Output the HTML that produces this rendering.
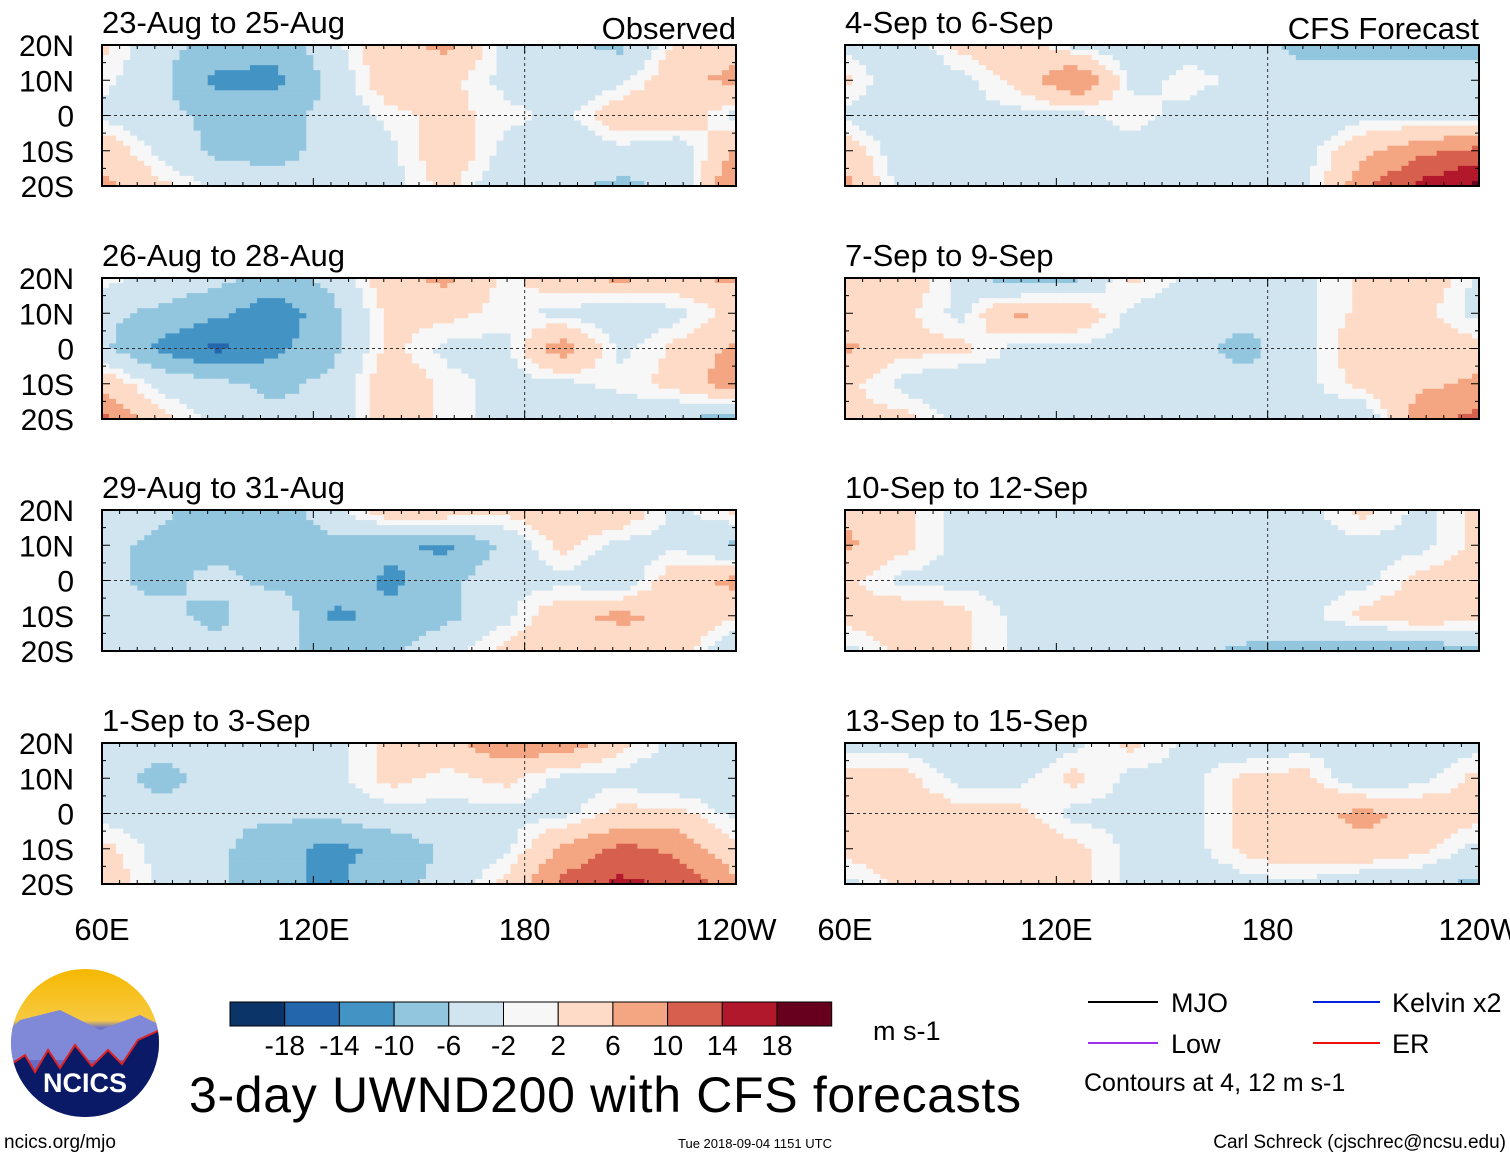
<!DOCTYPE html>
<html><head><meta charset="utf-8"><style>
body{margin:0;background:#fff;}
svg text{font-family:"Liberation Sans",sans-serif;}
</style></head><body>
<svg id="root" width="1510" height="1158" viewBox="0 0 1510 1158" xmlns="http://www.w3.org/2000/svg">
<defs>
<linearGradient id="sky" x1="0" y1="0" x2="0" y2="1"><stop offset="0" stop-color="#f5b800"/><stop offset="0.35" stop-color="#f7c940"/><stop offset="0.4" stop-color="#6a70c8"/><stop offset="1" stop-color="#5a62c0"/></linearGradient>
<clipPath id="logoclip"><circle cx="85" cy="1043" r="74"/></clipPath>
</defs>
<g id="panels"></g>
<g id="colorbar"></g>
<g clip-path="url(#logoclip)">
<rect x="10" y="968" width="150" height="150" fill="url(#sky)"/>
<path d="M20,1020 L60,1010 L100,1030 L140,1015 L160,1025 L160,1060 L10,1060 L10,1030Z" fill="#8088d8"/>
<path d="M10,1065 L25,1055 L35,1072 L48,1050 L60,1068 L75,1045 L92,1066 L108,1050 L122,1064 L138,1040 L160,1030 L160,1120 L10,1120Z" fill="#0b1a66"/>
<path d="M10,1065 L25,1055 L35,1072 L48,1050 L60,1068 L75,1045 L92,1066 L108,1050 L122,1064 L138,1040 L160,1030" fill="none" stroke="#d22" stroke-width="2"/>
<text x="85" y="1092" font-size="27" font-weight="bold" fill="#fff" text-anchor="middle">NCICS</text>
</g>
<text x="4" y="1148" font-size="19">ncics.org/mjo</text>
<text x="755" y="1148" font-size="13" text-anchor="middle">Tue 2018-09-04 1151 UTC</text>
<text x="1506" y="1148" font-size="19" text-anchor="end">Carl Schreck (cjschrec@ncsu.edu)</text>
<text x="605" y="1112" font-size="50" text-anchor="middle" textLength="832">3-day UWND200 with CFS forecasts</text>
<text x="873" y="1040" font-size="27">m s-1</text>
<g>
<line x1="1088" y1="1002" x2="1158" y2="1002" stroke="#000" stroke-width="2"/><text x="1171" y="1012" font-size="27">MJO</text>
<line x1="1313" y1="1002" x2="1380" y2="1002" stroke="#0020e0" stroke-width="2"/><text x="1392" y="1012" font-size="27">Kelvin x2</text>
<line x1="1088" y1="1043" x2="1158" y2="1043" stroke="#a030f0" stroke-width="2"/><text x="1171" y="1053" font-size="27">Low</text>
<line x1="1313" y1="1043" x2="1380" y2="1043" stroke="#f01010" stroke-width="2"/><text x="1392" y="1053" font-size="27">ER</text>
<text x="1084" y="1091" font-size="25">Contours at 4, 12 m s-1</text>
</g>
</svg>
<script>
const colors=["#0b3468","#2466ac","#4394c4","#92c5de","#d1e5f0","#f7f7f7","#fddbc7","#f4a582","#d6604d","#b2182b","#67001f"];
const cbLabels=["-18","-14","-10","-6","-2","2","6","10","14","18"];
const titles=["23-Aug to 25-Aug","26-Aug to 28-Aug","29-Aug to 31-Aug","1-Sep to 3-Sep","4-Sep to 6-Sep","7-Sep to 9-Sep","10-Sep to 12-Sep","13-Sep to 15-Sep"];
const latLabels=["20N","10N","0","10S","20S"];
const lonLabels=["60E","120E","180","120W"];
const u1=[[2,-4,-6,-8,-2,4,6,-2,-4,-6,2,4],[0,-4,-10,-10,-4,4,2,-2,-4,-2,4,6],[-2,-4,-6,-6,-4,0,2,0,-2,4,4,-2],[4,-2,-6,-6,-4,-2,4,-2,-4,-2,-4,6],[6,2,-2,-4,-4,-2,2,-4,-4,-6,-4,10]];
const u2=[[0,-2,-4,-6,-4,4,6,0,4,6,4,6],[-4,-6,-8,-12,-6,2,2,0,-2,-4,-2,2],[-4,-10,-14,-10,-6,2,-2,-2,8,-2,2,6],[4,-2,-4,-6,-4,4,0,-2,-2,0,2,8],[10,2,-2,-4,-4,4,0,-2,-2,-4,-4,-8]];
const u3=[[-2,-4,-8,-8,-2,4,4,2,4,4,-2,2],[-4,-6,-6,-8,-6,-8,-10,-4,2,-2,-2,-6],[-4,-6,-4,-6,-6,-10,-6,-2,-2,-4,4,6],[-4,-4,-6,-2,-10,-8,-6,-2,4,6,4,2],[-2,-2,-4,-4,-6,-6,-2,2,4,2,4,-6]];
const u4=[[-2,-4,-4,-4,-2,2,4,8,8,2,-2,-2],[-4,-6,-4,-4,-2,2,0,2,-2,-2,-4,-4],[-2,-4,-4,-4,-4,-2,-2,-2,-2,2,2,-2],[2,-2,-4,-8,-10,-8,-4,-2,6,10,8,2],[4,-2,-4,-8,-10,-6,-4,2,10,14,12,6]];
const u5=[[-2,-4,2,4,-2,-4,-2,-4,-6,-6,-8,-6],[2,-4,-2,2,10,-2,0,-2,-4,-4,-2,-4],[-2,-4,-2,-2,-2,0,-2,-4,-4,-2,-2,-2],[4,-4,-4,-4,-2,-2,-4,-2,-2,4,8,10],[6,-2,-4,-4,-4,-2,-4,-4,-2,8,14,18]];
const u6=[[2,4,-2,-8,-6,2,-2,-4,-2,2,4,-2],[2,2,-2,6,4,-2,-4,-4,-2,2,2,-2],[6,2,2,-2,-2,-2,-4,-6,-2,4,4,2],[2,-2,-4,-2,-4,-2,-4,-4,-2,2,4,6],[2,2,-2,-2,-4,-2,-4,-4,-2,-4,8,10]];
const u7=[[4,2,-2,-4,-4,-2,-2,-4,-2,2,-2,2],[6,2,-2,-2,-2,-2,-2,-4,-2,-2,-2,2],[2,-2,-2,-2,-2,-2,-2,-2,-2,-2,2,4],[2,4,2,-2,-2,-4,-2,-2,-2,2,4,2],[-2,2,2,-2,-2,-4,-4,-6,-6,-8,-8,-6]];
const u8=[[-2,-2,-4,-4,-2,2,-2,-4,-2,-4,-4,-2],[2,2,-2,-2,2,-2,-2,2,2,-4,-2,2],[2,4,2,2,-2,-2,-2,2,4,6,4,2],[2,4,4,4,2,-2,-2,2,4,4,2,-2],[-2,2,2,4,2,-2,-4,-2,-2,-4,-4,-6]];
const fields=[u1,u2,u3,u4,u5,u6,u7,u8];
const NS="http://www.w3.org/2000/svg";
function mk(tag,attrs,parent){const e=document.createElementNS(NS,tag);for(const k in attrs)e.setAttribute(k,attrs[k]);parent.appendChild(e);return e;}
function bin(v){if(Math.abs(v)<1)return 5;const i=5+Math.sign(v)*Math.ceil((Math.abs(v)-1)/4);return Math.max(0,Math.min(10,i));}
function sample(g,cx,cy){const x=Math.max(0,Math.min(11,cx)),y=Math.max(0,Math.min(4,cy));const x0=Math.min(10,Math.floor(x)),y0=Math.min(3,Math.floor(y));const fx=x-x0,fy=y-y0;
return g[y0][x0]*(1-fx)*(1-fy)+g[y0][x0+1]*fx*(1-fy)+g[y0+1][x0]*(1-fx)*fy+g[y0+1][x0+1]*fx*fy;}
const panelsG=document.getElementById('panels');
const colX=[102,845],rowY=[45,278,510,743],W=634,H=141;
fields.forEach((g,p)=>{
 const col=p<4?0:1,row=p%4;const x0=colX[col],y0=rowY[row];
 const pg=mk('g',{},panelsG);
 
 
 const lon=f=>x0+f*W, lat=f=>y0+f*H;
 const nx=90,ny=28;
 for(let j=0;j<ny;j++)for(let i=0;i<nx;i++){
  const v=sample(g,(i+0.5)/nx*11,(j+0.5)/ny*4);
  mk('rect',{x:lon(i/nx),y:lat(j/ny),width:W/nx+0.6,height:H/ny+0.6,fill:colors[bin(v)]},pg);
 }
 mk('line',{x1:x0,y1:lat(0.5),x2:x0+W,y2:lat(0.5),stroke:'#333','stroke-dasharray':'3,3','stroke-width':1},pg);
 mk('line',{x1:lon(2/3),y1:y0,x2:lon(2/3),y2:y0+H,stroke:'#333','stroke-dasharray':'3,3','stroke-width':1},pg);
 const fr=mk('rect',{x:x0,y:y0,width:W,height:H,fill:'none',stroke:'#000','stroke-width':2},pg);
 
 
 for(let k=0;k<=36;k++){const xx=lon(k/36);const L=k%12==0?8:4;mk('line',{x1:xx,y1:y0,x2:xx,y2:y0+L,stroke:'#000'},pg);mk('line',{x1:xx,y1:y0+H,x2:xx,y2:y0+H-L,stroke:'#000'},pg);}
 for(let k=0;k<=8;k++){const yy=lat(k/8);const L=k%2==0?8:4;mk('line',{x1:x0,y1:yy,x2:x0+L,y2:yy,stroke:'#000'},pg);mk('line',{x1:x0+W,y1:yy,x2:x0+W-L,y2:yy,stroke:'#000'},pg);}
 const t=mk('text',{x:x0,y:y0-12,'font-size':31},pg);t.textContent=titles[p];
 
 
 if(row==0){const s=mk('text',{x:x0+W,y:y0-6,'font-size':31,'text-anchor':'end'},pg);s.textContent=col==0?'Observed':'CFS Forecast';
  
  }
 if(col==0){latLabels.forEach((l,k)=>{const a=mk('text',{x:74,y:lat(k/4)+11,'font-size':30,'text-anchor':'end'},pg);a.textContent=l;
  
  });}
 if(row==3){lonLabels.forEach((l,k)=>{const a=mk('text',{x:lon(k/3),y:940,'font-size':31,'text-anchor':'middle'},pg);a.textContent=l;
  
  });}
});
const cb=document.getElementById('colorbar');
const bw=54.7;
colors.forEach((c,i)=>{const r=mk('rect',{x:230+i*bw,y:1002,width:bw,height:24,fill:c,stroke:'#000','stroke-width':1},cb);
 
 });
cbLabels.forEach((l,i)=>{const t=mk('text',{x:230+(i+1)*bw,y:1055,'font-size':28,'text-anchor':'middle'},cb);t.textContent=l;
 
 });
</script>
</body></html>
